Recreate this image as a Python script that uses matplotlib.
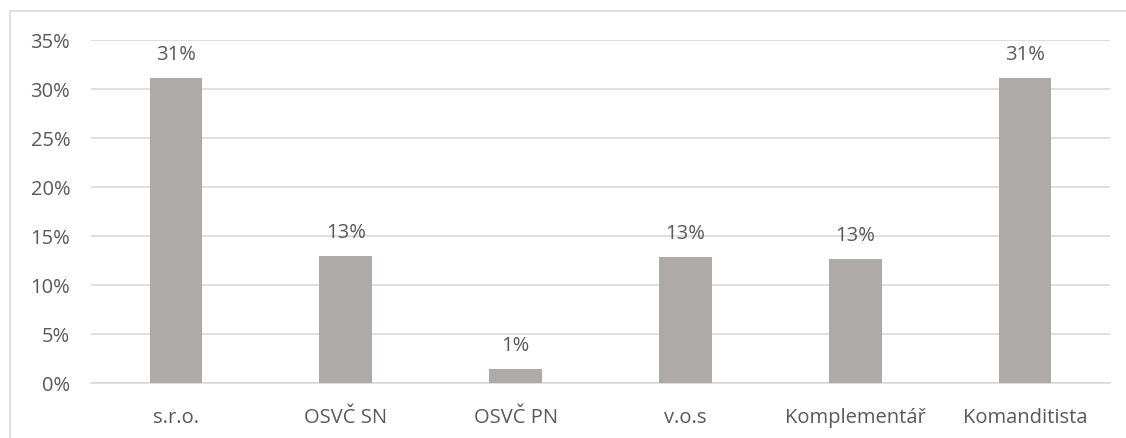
import matplotlib.pyplot as plt
from matplotlib.patches import Rectangle
from matplotlib.ticker import PercentFormatter, MultipleLocator

categories = ["s.r.o.", "OSVČ SN", "OSVČ PN", "v.o.s", "Komplementář", "Komanditista"]
shares = [0.311, 0.1296, 0.0143, 0.1289, 0.1262, 0.3112]
labels = ["31%", "13%", "1%", "13%", "13%", "31%"]

W, H = 1126, 439
plt.rcParams["font.family"] = ["Open Sans", "DejaVu Sans"]
text_color = "#595959"
grid_color = "#D9D9D9"

fig = plt.figure(figsize=(W / 100, H / 100), dpi=100)
fig.patch.set_facecolor("white")

# chart area frame
fig.patches.append(Rectangle((10 / W, -0.1), 1.2, (H - 12) / H + 0.1,
                             transform=fig.transFigure, fill=False,
                             edgecolor=grid_color, linewidth=1.2))

ax = fig.add_axes([91 / W, (H - 384) / H, (1110 - 91) / W, (384 - 41) / H])
x = range(len(categories))
ax.bar(x, shares, width=0.31, color="#AEAAAA", zorder=3)

for xi, v, lab in zip(x, shares, labels):
    ax.annotate(lab, (xi, v), xytext=(0, 10), textcoords="offset points",
                ha="center", va="bottom", fontsize=14.5, color=text_color)

ax.set_xlim(-0.5, len(categories) - 0.5)
ax.set_ylim(0, 0.35)
ax.yaxis.set_major_locator(MultipleLocator(0.05))
ax.yaxis.set_major_formatter(PercentFormatter(1.0, decimals=0))
ax.grid(axis="y", color=grid_color, linewidth=1.2, zorder=0)
ax.set_xticks(list(x))
ax.set_xticklabels(categories)
ax.tick_params(axis="both", length=0, labelsize=14.5, labelcolor=text_color)
ax.tick_params(axis="y", pad=15)
ax.tick_params(axis="x", pad=17)
for side in ["top", "right", "left"]:
    ax.spines[side].set_visible(False)
ax.spines["bottom"].set_color(grid_color)
ax.spines["bottom"].set_linewidth(1.2)

fig.savefig("out.png", dpi=100)
